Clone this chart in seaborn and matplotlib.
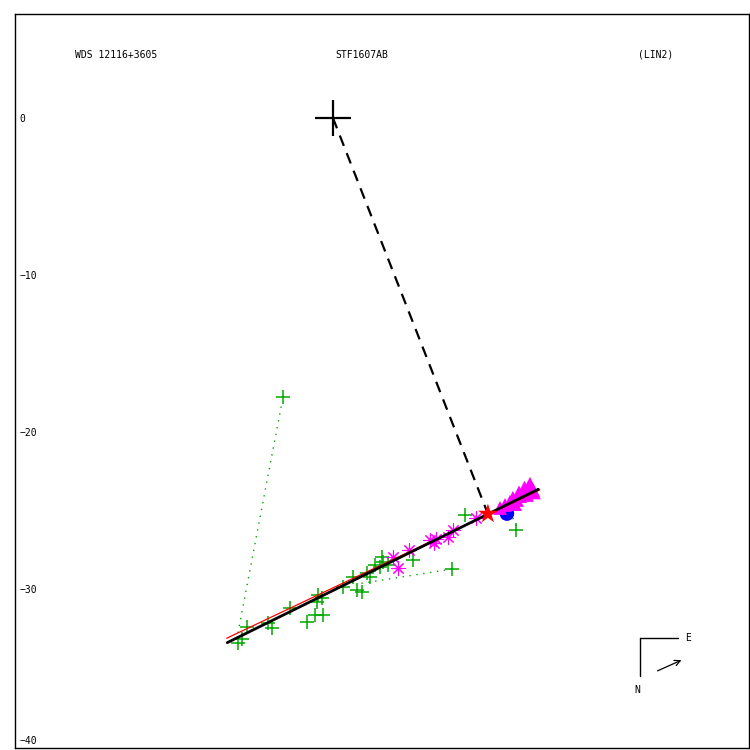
import numpy as np
import pandas as pd
import matplotlib
matplotlib.use("Agg")
import matplotlib.pyplot as plt
import seaborn as sns

# measures (arcsec offsets)
plus_x = [-6.05, -5.48, -5.80, -4.14, -3.89, -2.74, -1.66, -1.15, -0.64, -0.96,
          -1.02, -0.70, 0.64, 1.27, 1.53, 1.85, 2.17, 2.36, 2.68, 3.12,
          2.99, 3.50, 3.18, 5.10, 7.58, 8.41, 11.66, -3.18]
plus_y = [-33.44, -32.42, -33.18, -32.17, -32.48, -31.21, -32.10, -31.66, -31.66, -30.38,
          -30.83, -30.57, -29.87, -29.24, -30.06, -30.19, -28.98, -29.24, -28.47, -27.96,
          -28.60, -28.47, -28.28, -28.15, -28.73, -25.29, -26.24, -17.77]

ast_x = [3.82, 4.14, 4.84, 6.18, 6.43, 6.56, 7.32, 7.64, 9.11]
ast_y = [-27.96, -28.66, -27.52, -26.88, -27.07, -26.82, -26.69, -26.24, -25.48]

tri_x = [10.64, 10.96, 11.27, 11.46, 11.72, 11.91, 12.10, 12.29, 12.42, 12.61, 12.74, 12.36, 11.59,
         11.85, 12.20, 12.55, 12.80]
tri_y = [-24.84, -24.65, -24.46, -24.20, -24.33, -24.08, -23.95, -23.82, -23.63, -23.50, -23.69, -24.01, -24.59,
         -23.85, -23.55, -23.30, -23.85]

blue_x, blue_y = [11.08], [-25.20]
star_x, star_y = [9.87], [-25.22]

fit_black_x, fit_black_y = [-6.73, 13.08], [-33.42, -23.65]
fit_red_x, fit_red_y = [-6.77, 13.18], [-33.14, -23.69]
dash_x, dash_y = [0.0, 9.87], [0.0, -25.22]

oc_lines = [([-6.05, -3.25], [-32.80, -18.15]),
            ([7.58, 1.59], [-28.73, -29.68]),
            ([11.46, 11.66], [-25.48, -25.99])]

yticks = [0, -10, -20, -30, -40]

sns.set_style("white")
plt.rcParams["font.family"] = ["DejaVu Sans Mono"]
plt.rcParams["text.color"] = "black"
plt.rcParams["ytick.color"] = "black"

fig = plt.figure(figsize=(7.5, 7.5), dpi=100)
ax = fig.add_axes([15 / 750, 2 / 750, 734 / 750, 734 / 750])

green = "#00a800"
magenta = "#ff00ff"

for lx, ly in oc_lines:
    sns.lineplot(x=lx, y=ly, ax=ax, color=green, linestyle=(0, (1, 4)), lw=1, sort=False)

sns.lineplot(x=dash_x, y=dash_y, ax=ax, color="black", linestyle=(0, (5, 3.5)), lw=1.6, sort=False)

sns.scatterplot(x=plus_x, y=plus_y, ax=ax, marker="+", s=110, color=green, linewidth=1.1, zorder=3)
sns.scatterplot(x=ast_x, y=ast_y, ax=ax, marker=(8, 2, 0), s=90, color=magenta, linewidth=0.8, zorder=3)
sns.scatterplot(x=blue_x, y=blue_y, ax=ax, marker="o", s=110, color="#0000ff", edgecolor="none", zorder=3)
sns.scatterplot(x=tri_x, y=tri_y, ax=ax, marker="^", s=100, color=magenta, edgecolor="none", zorder=4)

sns.lineplot(x=fit_red_x, y=fit_red_y, ax=ax, color="red", lw=0.9, sort=False, zorder=5)
sns.lineplot(x=fit_black_x, y=fit_black_y, ax=ax, color="black", lw=2.0, sort=False, zorder=5)

sns.scatterplot(x=star_x, y=star_y, ax=ax, marker="*", s=220, color="red", edgecolor="none", zorder=6)
sns.scatterplot(x=[0], y=[0], ax=ax, marker="+", s=700, color="black", linewidth=1.6, zorder=6)

ax.set_xlim(-20.25, 26.50)
ax.set_ylim(-40.13, 6.62)
ax.set_xticks([])
ax.set_yticks(yticks)
ax.set_yticklabels([str(v).replace("-", "\u2212") for v in yticks], fontsize=7)
ax.tick_params(axis="y", length=0, pad=-3)
for lab in ax.get_yticklabels():
    lab.set_horizontalalignment("left")
ax.get_yticklabels()[-1].set_verticalalignment("bottom")
for sp in ax.spines.values():
    sp.set_color("black")
    sp.set_linewidth(1)
ax.set_xlabel("")
ax.set_ylabel("")

ax.text(-16.43, 4.01, "WDS 12116+3605", fontsize=7, va="center", ha="left")
ax.text(0.13, 4.01, "STF1607AB", fontsize=7, va="center", ha="left")
ax.text(19.43, 4.01, "(LIN2)", fontsize=7, va="center", ha="left")

# compass (figure pixels)
def fx(px):
    return px / 750

def fy(py):
    return 1 - py / 750

fig.add_artist(plt.Line2D([fx(640), fx(678)], [fy(638), fy(638)], color="black", lw=1))
fig.add_artist(plt.Line2D([fx(640), fx(640)], [fy(638), fy(676)], color="black", lw=1))
fig.text(fx(685), fy(638), "E", fontsize=7, va="center", ha="left")
fig.text(fx(637), fy(690), "N", fontsize=7, va="center", ha="center")
ax.annotate("", xy=(fx(684), fy(659)), xytext=(fx(655), fy(672)), xycoords="figure fraction",
            arrowprops=dict(arrowstyle="->", color="black", lw=0.9))

fig.savefig("out.png", dpi=100)
